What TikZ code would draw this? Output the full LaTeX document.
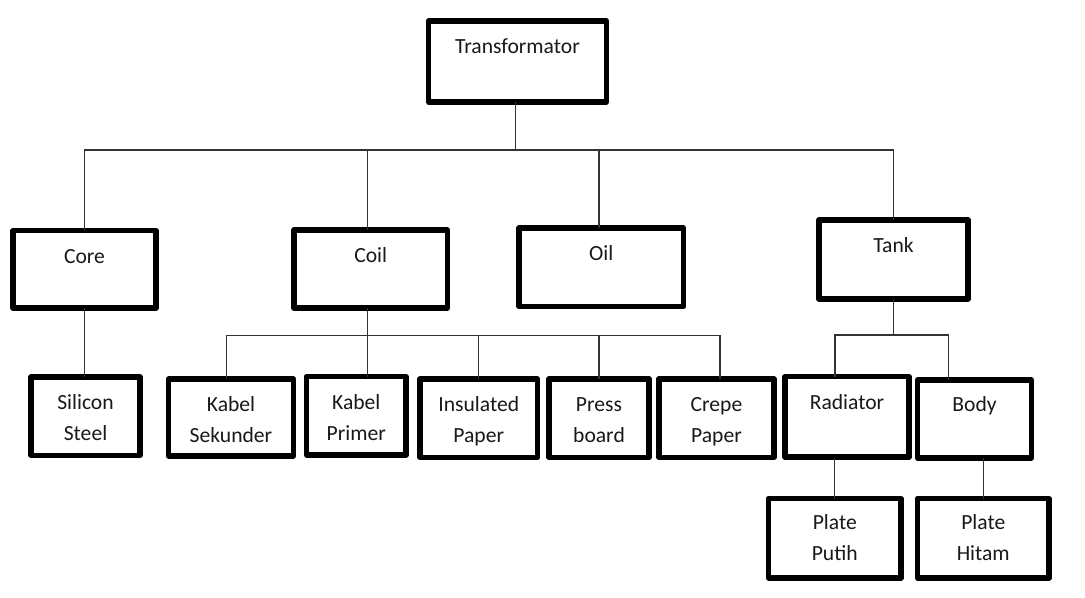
\documentclass[tikz,border=0pt]{standalone}
\usepackage{fontspec}
\setmainfont{Carlito}
\begin{document}
\begin{tikzpicture}[x=0.75pt,y=-0.75pt,
  box/.style={draw=black, line width=4pt, line join=round, fill=white, inner sep=0pt, outer sep=0pt},
  txt/.style={anchor=base, align=center, inner sep=0pt, text=black!90, font=\fontsize{16.2}{23.25}\selectfont},
  conn/.style={draw=black!80, line width=0.8pt}]
\useasboundingbox (0,0) rectangle (1085,597);
% connectors (behind boxes)
\coordinate (b0) at (515.7,150);
\coordinate (bc) at (367.7,150);
\coordinate (bo) at (599,150);
\coordinate (k1) at (226.7,335.7);
\coordinate (k3) at (367.7,335.7);
\coordinate (k5) at (720,335.7);
\coordinate (t1) at (835,335);
\coordinate (t2) at (948.3,335);
% boxes
\node[box, minimum width=178*.75pt, minimum height=81*.75pt]   (tr)   at (517.5,61.5) {};
\node[box, minimum width=143*.75pt, minimum height=77.5*.75pt] (core) at (84.5,269.25) {};
\node[box, minimum width=153.5*.75pt, minimum height=78*.75pt] (coil) at (370.75,269) {};
\node[box, minimum width=164.5*.75pt, minimum height=78.5*.75pt] (oil) at (601.25,267.25) {};
\node[box, minimum width=149*.75pt, minimum height=79*.75pt]   (tank) at (893.5,259.5) {};
\node[box, minimum width=109*.75pt, minimum height=78.5*.75pt] (si)   at (85.5,416.25) {};
\node[box, minimum width=125*.75pt, minimum height=77*.75pt]   (ks)   at (231,417.5) {};
\node[box, minimum width=99.5*.75pt, minimum height=78.5*.75pt] (kp)  at (356.25,415.75) {};
\node[box, minimum width=117.5*.75pt, minimum height=78.5*.75pt] (ip) at (478.75,418.25) {};
\node[box, minimum width=100*.75pt, minimum height=78.5*.75pt] (pb)   at (599,418.25) {};
\node[box, minimum width=115*.75pt, minimum height=78.5*.75pt] (cp)   at (716.5,418.25) {};
\node[box, minimum width=124*.75pt, minimum height=80.5*.75pt] (rad)  at (847,416.75) {};
\node[box, minimum width=114*.75pt, minimum height=78*.75pt]   (body) at (974.5,419) {};
\node[box, minimum width=132.5*.75pt, minimum height=79.5*.75pt] (pp) at (834.75,538.25) {};
\node[box, minimum width=131.5*.75pt, minimum height=79.5*.75pt] (ph) at (983.25,538.25) {};
% texts (multi-line nodes: base anchor is last line)
\node[txt] (trt)   at ([yshift=-24.6pt]tr.north)   {Transformator};
\node[txt] (coret) at ([yshift=-24.6pt]core.north) {Core};
\node[txt] (coilt) at ([yshift=-24.2pt]coil.north) {Coil};
\node[txt] (oilt)  at ([yshift=-24.4pt]oil.north)  {Oil};
\node[txt] (tankt) at ([yshift=-24.2pt]tank.north) {Tank};
\node[txt] (sit)   at ([yshift=-47.45pt]si.north)  {Silicon\\Steel};
\node[txt] (kst)   at ([yshift=-47.75pt]ks.north)  {Kabel\\Sekunder};
\node[txt] (kpt)   at ([yshift=-47.75pt]kp.north)  {Kabel\\Primer};
\node[txt] (ipt)   at ([yshift=-47.75pt]ip.north)  {Insulated\\Paper};
\node[txt] (pbt)   at ([yshift=-47.75pt]pb.north)  {Press\\board};
\node[txt] (cpt)   at ([yshift=-47.75pt]cp.north)  {Crepe\\Paper};
\node[txt] (radt)  at ([yshift=-25pt]rad.north)    {Radiator};
\node[txt] (bodyt) at ([yshift=-23.8pt]body.north) {Body};
\node[txt] (ppt)   at ([yshift=-46.85pt]pp.north)  {Plate\\Putih};
\node[txt] (pht)   at ([yshift=-46.85pt]ph.north)  {Plate\\Hitam};
% connectors
\draw[conn] (tr.south -| b0) -- (b0);
\draw[conn] (core.north) |- (b0) -| (tank.north);
\draw[conn] (bc) -- (coil.north -| bc);
\draw[conn] (bo) -- (oil.north -| bo);
\draw[conn] (core.south) -- (si.north -| core.south);
\draw[conn] (coil.south -| k3) -- (kp.north -| k3);
\draw[conn] (ks.north -| k1) -- (k1) -- (k5) -- (cp.north -| k5);
\draw[conn] (ip.north) -- (ip.north |- k1);
\draw[conn] (pb.north) -- (pb.north |- k1);
\draw[conn] (tank.south) -- (tank.south |- t1);
\draw[conn] (rad.north -| t1) -- (t1) -- (t2) -- (body.north -| t2);
\draw[conn] (rad.south -| pp.north) -- (pp.north);
\draw[conn] (body.south -| ph.north) -- (ph.north);
\end{tikzpicture}
\end{document}
